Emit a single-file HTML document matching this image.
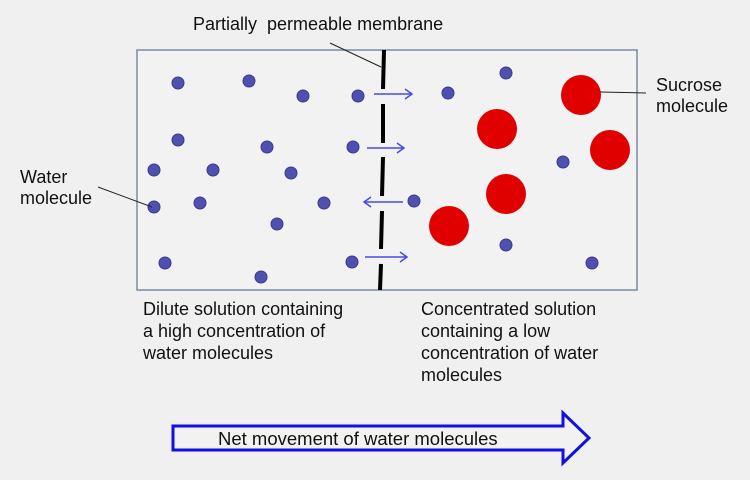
<!DOCTYPE html>
<html><head><meta charset="utf-8"><style>
body{margin:0;background:#f0f0f0;width:750px;height:475px;overflow:hidden}
svg text{font-family:"Liberation Sans",Arial,sans-serif;fill:#111}
</style></head><body>
<svg width="750" height="475" viewBox="0 0 750 475">
<rect x="0" y="0" width="750" height="475" fill="#f0f0f0"/>
<rect x="137" y="50" width="500" height="240" fill="#f2f2f2" stroke="#7a8ba0" stroke-width="1.5"/>
<text x="193" y="30" font-size="18" xml:space="preserve">Partially  permeable membrane</text>
<line x1="330" y1="43" x2="381" y2="67" stroke="#222" stroke-width="1"/>
<g stroke="#000" stroke-width="4">
<line x1="384" y1="50" x2="383" y2="89"/>
<line x1="383" y1="104" x2="383" y2="143"/>
<line x1="383" y1="157" x2="382" y2="196"/>
<line x1="382" y1="211" x2="381" y2="249"/>
<line x1="381" y1="264" x2="380" y2="290"/>
</g>
<g fill="#5050b0" stroke="#3a3a90" stroke-width="1">
<circle cx="178" cy="83" r="6"/><circle cx="249" cy="81" r="6"/><circle cx="303" cy="96" r="6"/><circle cx="358" cy="96" r="6"/>
<circle cx="178" cy="140" r="6"/><circle cx="267" cy="147" r="6"/><circle cx="154" cy="170" r="6"/><circle cx="213" cy="170" r="6"/>
<circle cx="291" cy="173" r="6"/><circle cx="154" cy="207" r="6"/><circle cx="200" cy="203" r="6"/><circle cx="324" cy="203" r="6"/>
<circle cx="277" cy="224" r="6"/><circle cx="165" cy="263" r="6"/><circle cx="261" cy="277" r="6"/><circle cx="353" cy="147" r="6"/>
<circle cx="352" cy="262" r="6"/><circle cx="414" cy="201" r="6"/><circle cx="448" cy="93" r="6"/><circle cx="506" cy="73" r="6"/>
<circle cx="563" cy="162" r="6"/><circle cx="506" cy="245" r="6"/><circle cx="592" cy="263" r="6"/>
</g>
<g fill="#e00000">
<circle cx="581" cy="95" r="20"/><circle cx="497" cy="129" r="20"/><circle cx="610" cy="150" r="20"/>
<circle cx="506" cy="194" r="20"/><circle cx="449" cy="226" r="20"/>
</g>
<g stroke="#4a4ae8" stroke-width="1.5" fill="none">
<path d="M374 94H412M405 89L412 94L405 99"/>
<path d="M367 148H404M397 143L404 148L397 153"/>
<path d="M403 202H364M371 197L364 202L371 207"/>
<path d="M365 257H407M400 252L407 257L400 262"/>
</g>
<line x1="600" y1="92" x2="646" y2="93" stroke="#222" stroke-width="1"/>
<text x="656" y="91" font-size="18">Sucrose</text>
<text x="656" y="112" font-size="18">molecule</text>
<text x="20" y="183" font-size="18">Water</text>
<text x="20" y="204" font-size="18">molecule</text>
<line x1="98" y1="187" x2="152" y2="207" stroke="#222" stroke-width="1"/>
<text x="143" y="315" font-size="18">Dilute solution containing</text>
<text x="143" y="337" font-size="18">a high concentration of</text>
<text x="143" y="359" font-size="18">water molecules</text>
<text x="421" y="315" font-size="18">Concentrated solution</text>
<text x="421" y="337" font-size="18">containing a low</text>
<text x="421" y="359" font-size="18">concentration of water</text>
<text x="421" y="381" font-size="18">molecules</text>
<path d="M173 426H563V413L589 438L563 463V450H173Z" fill="#f2f2f2" stroke="#1010e0" stroke-width="3"/>
<text x="218" y="445" font-size="18.5">Net movement of water molecules</text>
</svg>
</body></html>
